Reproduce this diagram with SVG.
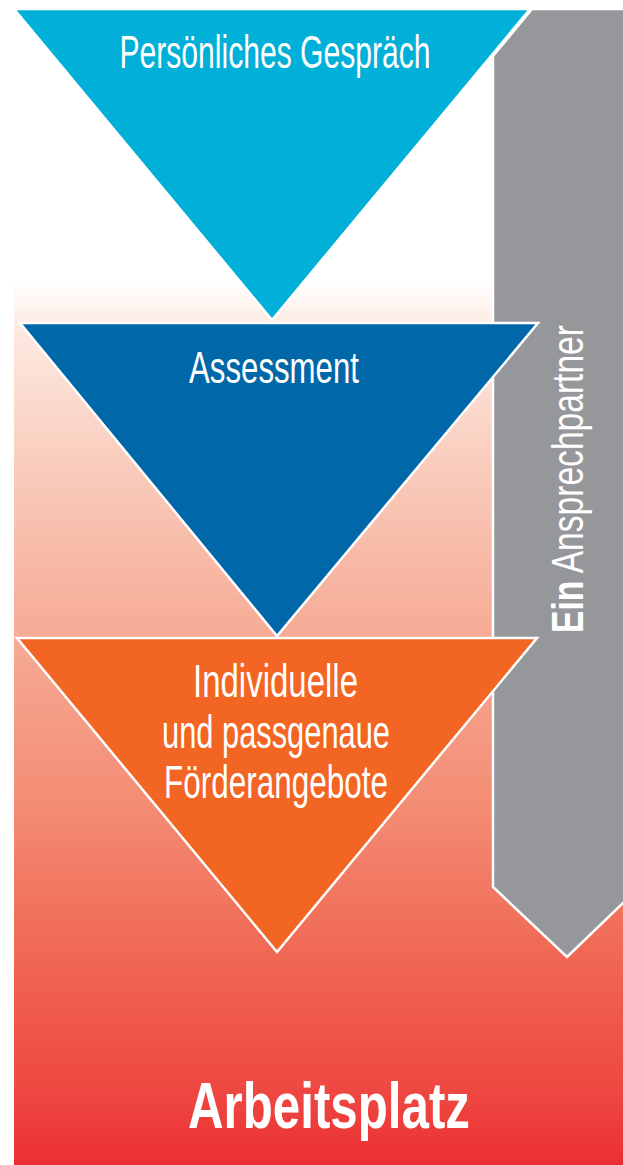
<svg xmlns="http://www.w3.org/2000/svg" width="623" height="1165" viewBox="0 0 623 1165">
<style>
.tri{stroke:#ffffff;stroke-width:2.5;stroke-linejoin:miter}
.lbl{font-family:"Liberation Sans",Arial,sans-serif;fill:#ffffff;font-size:44px;text-anchor:middle}
.big{font-size:46px}
.bold{font-weight:bold;font-size:64px}
</style>
<defs>
<linearGradient id="bg" gradientUnits="userSpaceOnUse" x1="0" y1="280" x2="0" y2="1165">
<stop offset="0" stop-color="#ffffff"/>
<stop offset="0.056" stop-color="#fde9e1"/>
<stop offset="0.226" stop-color="#f9c9b9"/>
<stop offset="0.407" stop-color="#f6aa94"/>
<stop offset="0.588" stop-color="#f48d75"/>
<stop offset="0.768" stop-color="#f06752"/>
<stop offset="0.927" stop-color="#ee4540"/>
<stop offset="1" stop-color="#ec2e32"/>
</linearGradient>
</defs>
<rect width="623" height="1165" fill="#ffffff"/>
<g id="background">
<rect x="14" y="280" width="609" height="885" fill="url(#bg)"/>
</g>
<g id="contact-bar">
<polygon points="532,9 625,9 625,901 567,957 493,887 493,56" fill="#96979b" stroke="#ffffff" stroke-width="2.5"/>
<text transform="translate(583,633) rotate(-90)" x="0" y="0" font-family="'Liberation Sans',Arial,sans-serif" font-size="45" fill="#ffffff" textLength="308" lengthAdjust="spacingAndGlyphs"><tspan font-weight="bold">Ein</tspan> Ansprechpartner</text>
</g>
<g id="step1">
<polygon class="tri" points="14,9 530,9 272,320" fill="#00b0d8"/>
<text class="lbl big" x="275" y="68" textLength="311" lengthAdjust="spacingAndGlyphs">Persönliches Gespräch</text>
</g>
<g id="step2">
<polygon class="tri" points="20,323 538,323 277,636" fill="#0068a8"/>
<text class="lbl" x="274" y="383" textLength="170" lengthAdjust="spacingAndGlyphs">Assessment</text>
</g>
<g id="step3">
<polygon class="tri" points="17,638 537,638 277,952" fill="#f26522"/>
<text class="lbl big" x="275.5" y="697" textLength="165" lengthAdjust="spacingAndGlyphs">Individuelle</text>
<text class="lbl big" x="276" y="748" textLength="228" lengthAdjust="spacingAndGlyphs">und passgenaue</text>
<text class="lbl big" x="276" y="798" textLength="224" lengthAdjust="spacingAndGlyphs">Förderangebote</text>
</g>
<g id="goal">
<text class="lbl bold" x="329" y="1128" textLength="282" lengthAdjust="spacingAndGlyphs">Arbeitsplatz</text>
</g>
<g id="connectors"></g>
</svg>
